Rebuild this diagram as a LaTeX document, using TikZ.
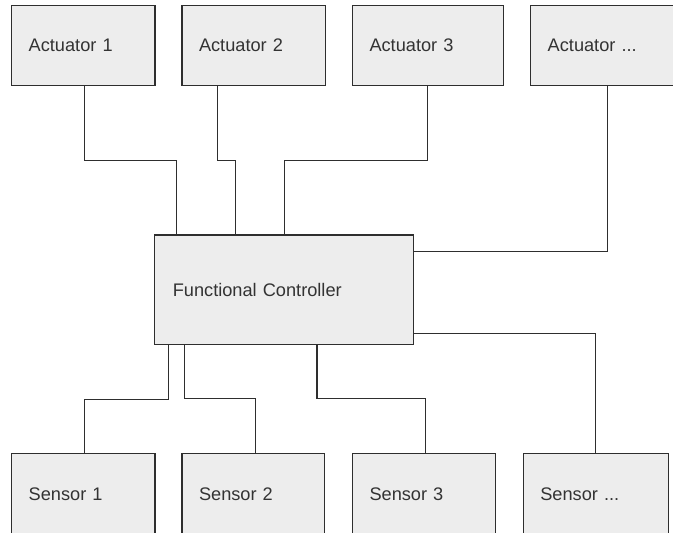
\documentclass[tikz,border=0pt]{standalone}
\usepackage{fontspec}
\setmainfont{Liberation Sans}
\begin{document}
\begin{tikzpicture}[x=1pt,y=-1pt,
  line width=1.4pt,
  ink/.style={draw=black!82},
  block/.style={ink, fill=black!7, text=black!80, outer sep=0pt,
    inner xsep=17pt, inner ysep=0pt, align=left, anchor=north west,
    font=\fontsize{18.2}{22}\selectfont},
  unit/.style={block, minimum height=80pt},
  core/.style={block, inner xsep=18.5pt, minimum height=109.5pt},
  wire/.style={ink, line join=miter}]
\clip (0,0) rectangle (673,533);
\fill[white] (0,0) rectangle (673,533);

% actuators along the top
\node[unit, text width=109.3pt] (a1) at (11.7,5.3)  {Actuator 1};
\node[unit, text width=109.7pt] (a2) at (182,5.3)   {Actuator 2};
\node[unit, text width=117pt]   (a3) at (352.5,5.3) {Actuator 3};
\node[unit, text width=116pt]   (a4) at (530.7,5.3) {Actuator ...};

% controller in the middle
\node[core, text width=222pt] (fc) at (154.3,235) {Functional Controller};

% sensors along the bottom
\node[unit, text width=109.3pt, minimum height=80.3pt] (s1) at (11.7,453.7)  {Sensor 1};
\node[unit, text width=108.7pt, minimum height=80.3pt] (s2) at (182,453.7)   {Sensor 2};
\node[unit, text width=108.8pt, minimum height=80.3pt] (s3) at (352.5,453.7) {Sensor 3};
\node[unit, text width=111pt,   minimum height=80.3pt] (s4) at (523.3,453.7) {Sensor ...};

% actuator wiring
\draw[wire] ([xshift=72.6pt]a1.south west) -- ++(0,75) -| ([xshift=22pt]fc.north west);
\draw[wire] ([xshift=35.7pt]a2.south west) -- ++(0,75) -| ([xshift=81.4pt]fc.north west);
\draw[wire] ([xshift=74.8pt]a3.south west) -- ++(0,75) -| ([xshift=130pt]fc.north west);
\draw[wire] ([xshift=76.6pt]a4.south west) |- ([yshift=-16.7pt]fc.north east);

% sensor wiring
\draw[wire] ([xshift=14.4pt]fc.south west) -- ++(0,54.8) -| ([xshift=72.6pt]s1.north west);
\draw[wire] ([xshift=30pt]fc.south west) -- ++(0,53.8) -| ([xshift=73.3pt]s2.north west);
\draw[wire] ([xshift=162.7pt]fc.south west) -- ++(0,53.8) -| ([xshift=73.2pt]s3.north west);
\draw[wire] ([yshift=11.2pt]fc.south east) -| ([xshift=72.4pt]s4.north west);
\end{tikzpicture}
\end{document}
